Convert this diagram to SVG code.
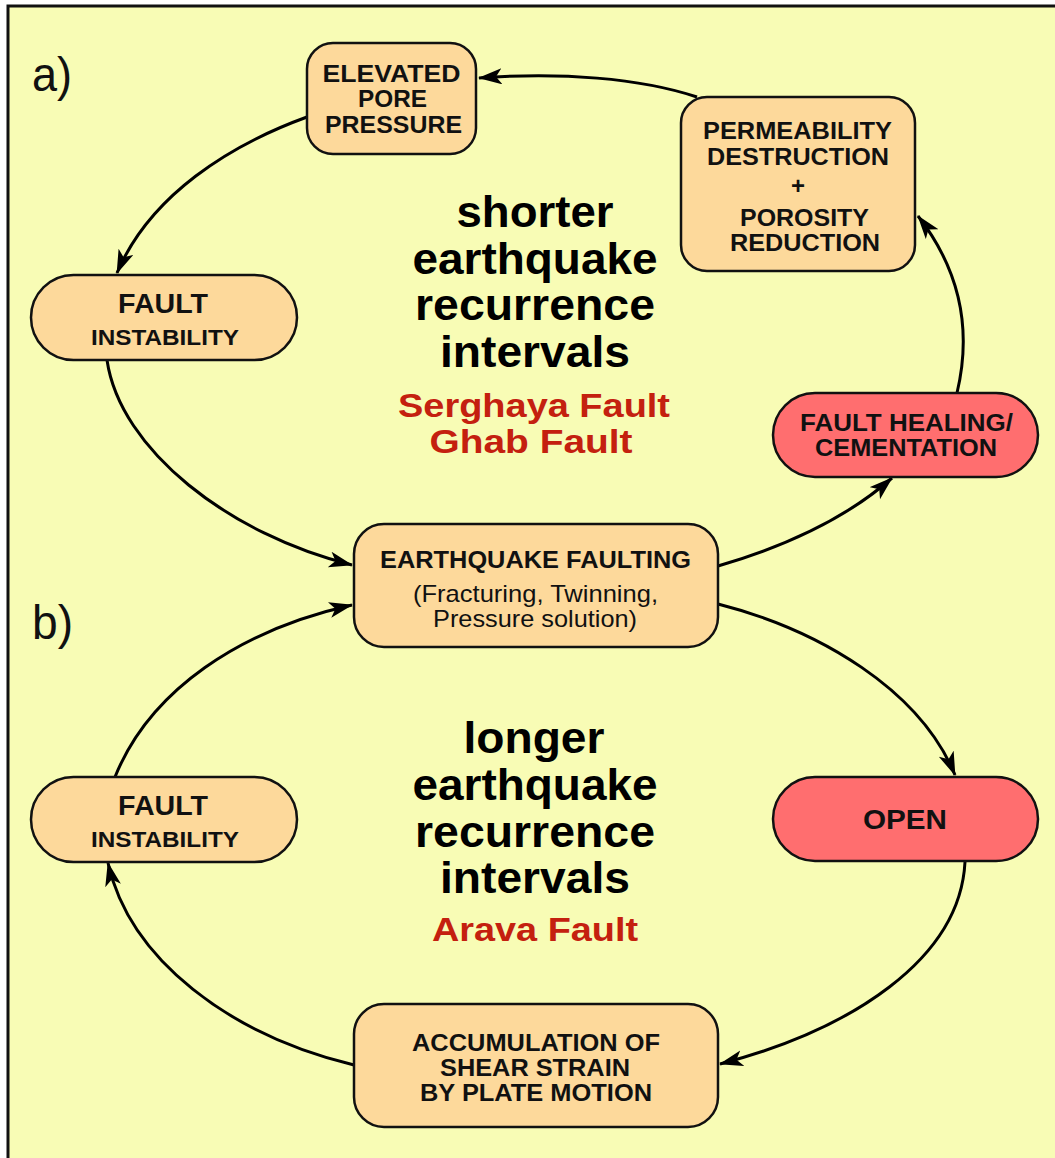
<svg xmlns="http://www.w3.org/2000/svg" width="1055" height="1158" viewBox="0 0 1055 1158">
<style>
.box{fill:#fdd99b;stroke:#111;stroke-width:2.5}
.red{fill:#ff6e6f;stroke:#111;stroke-width:2.5}
.t{font-family:"Liberation Sans",Arial,sans-serif;font-weight:bold;fill:#111;text-anchor:middle}
.r{font-family:"Liberation Sans",Arial,sans-serif;fill:#111;text-anchor:middle}
.big{font-family:"Liberation Sans",Arial,sans-serif;font-weight:bold;font-size:45px;fill:#000;text-anchor:middle}
.fault{font-family:"Liberation Sans",Arial,sans-serif;font-weight:bold;font-size:33px;fill:#c4200f;text-anchor:middle}
.lab{font-family:"Liberation Sans",Arial,sans-serif;font-size:48px;fill:#111}
.c{fill:none;stroke:#000;stroke-width:3;marker-end:url(#ah)}
</style>
<defs>
<marker id="ah" markerUnits="userSpaceOnUse" markerWidth="26" markerHeight="18" refX="23" refY="8" orient="auto">
<path d="M0,0 L24,8 L0,16 L6,8 z" fill="#000"/>
</marker>
</defs>
<rect x="8" y="6" width="1070" height="1170" fill="#f8fcb5" stroke="#111" stroke-width="3"/>
<g id="labels">
<text class="lab" x="32" y="91" textLength="40" lengthAdjust="spacingAndGlyphs">a)</text>
<text class="lab" x="32" y="639" textLength="41" lengthAdjust="spacingAndGlyphs">b)</text>
</g>
<g id="title-a">
<text class="big" x="535" y="227" textLength="157" lengthAdjust="spacingAndGlyphs">shorter</text>
<text class="big" x="535" y="274" textLength="245" lengthAdjust="spacingAndGlyphs">earthquake</text>
<text class="big" x="535" y="320" textLength="240" lengthAdjust="spacingAndGlyphs">recurrence</text>
<text class="big" x="535" y="367" textLength="190" lengthAdjust="spacingAndGlyphs">intervals</text>
<text class="fault" x="534" y="417" textLength="272" lengthAdjust="spacingAndGlyphs">Serghaya Fault</text>
<text class="fault" x="531" y="453" textLength="203" lengthAdjust="spacingAndGlyphs">Ghab Fault</text>
</g>
<g id="title-b">
<text class="big" x="534" y="753" textLength="141" lengthAdjust="spacingAndGlyphs">longer</text>
<text class="big" x="535" y="800" textLength="245" lengthAdjust="spacingAndGlyphs">earthquake</text>
<text class="big" x="535" y="847" textLength="240" lengthAdjust="spacingAndGlyphs">recurrence</text>
<text class="big" x="535" y="893" textLength="190" lengthAdjust="spacingAndGlyphs">intervals</text>
<text class="fault" x="535" y="941" textLength="206" lengthAdjust="spacingAndGlyphs">Arava Fault</text>
</g>
<g id="connectors">
<path class="c" d="M697,97 C640,78 560,72 479,78"/>
<path class="c" d="M307,117 C230,145 150,195 117,273"/>
<path class="c" d="M107,360 C120,450 230,535 352,565"/>
<path class="c" d="M718,566 C790,545 850,515 892,478"/>
<path class="c" d="M957,393 C972,330 960,270 918,216"/>
<path class="c" d="M718,604 C820,630 920,690 955,775"/>
<path class="c" d="M965,862 C960,960 850,1030 720,1064"/>
<path class="c" d="M354,1065 C230,1035 130,960 108,863"/>
<path class="c" d="M115,777 C150,690 240,630 352,605"/>
</g>
<g id="elevated">
<rect class="box" x="307" y="43" width="169" height="111" rx="26"/>
<text class="t" font-size="24" x="391.5" y="82" textLength="138" lengthAdjust="spacingAndGlyphs">ELEVATED</text>
<text class="t" font-size="24" x="392.5" y="107" textLength="69" lengthAdjust="spacingAndGlyphs">PORE</text>
<text class="t" font-size="24" x="393.5" y="133" textLength="137" lengthAdjust="spacingAndGlyphs">PRESSURE</text>
</g>
<g id="permeability">
<rect class="box" x="681" y="97" width="234" height="174" rx="26"/>
<text class="t" font-size="24" x="797.5" y="139" textLength="189" lengthAdjust="spacingAndGlyphs">PERMEABILITY</text>
<text class="t" font-size="24" x="798" y="165" textLength="182" lengthAdjust="spacingAndGlyphs">DESTRUCTION</text>
<text class="t" font-size="24" x="798" y="194">+</text>
<text class="t" font-size="24" x="804.5" y="226" textLength="129" lengthAdjust="spacingAndGlyphs">POROSITY</text>
<text class="t" font-size="24" x="805" y="251" textLength="150" lengthAdjust="spacingAndGlyphs">REDUCTION</text>
</g>
<g id="fault-instability-a">
<rect class="box" x="31" y="275" width="266" height="85" rx="42.5"/>
<text class="t" font-size="28" x="163" y="313" textLength="90" lengthAdjust="spacingAndGlyphs">FAULT</text>
<text class="t" font-size="22" x="165" y="345" textLength="148" lengthAdjust="spacingAndGlyphs">INSTABILITY</text>
</g>
<g id="fault-healing">
<rect class="red" x="773" y="393" width="265" height="84" rx="42"/>
<text class="t" font-size="24" x="906.5" y="431" textLength="213" lengthAdjust="spacingAndGlyphs">FAULT HEALING/</text>
<text class="t" font-size="24" x="906" y="456" textLength="182" lengthAdjust="spacingAndGlyphs">CEMENTATION</text>
</g>
<g id="earthquake-faulting">
<rect class="box" x="354" y="524" width="364" height="123" rx="30"/>
<text class="t" font-size="24" x="535.5" y="568" textLength="311" lengthAdjust="spacingAndGlyphs">EARTHQUAKE FAULTING</text>
<text class="r" font-size="24" x="535.5" y="602" textLength="245" lengthAdjust="spacingAndGlyphs">(Fracturing, Twinning,</text>
<text class="r" font-size="24" x="535" y="627" textLength="204" lengthAdjust="spacingAndGlyphs">Pressure solution)</text>
</g>
<g id="fault-instability-b">
<rect class="box" x="31" y="777" width="266" height="85" rx="42.5"/>
<text class="t" font-size="28" x="163" y="815" textLength="90" lengthAdjust="spacingAndGlyphs">FAULT</text>
<text class="t" font-size="22" x="165" y="847" textLength="148" lengthAdjust="spacingAndGlyphs">INSTABILITY</text>
</g>
<g id="open">
<rect class="red" x="773" y="777" width="265" height="84" rx="42"/>
<text class="t" font-size="27" x="905" y="829" textLength="84" lengthAdjust="spacingAndGlyphs">OPEN</text>
</g>
<g id="accumulation">
<rect class="box" x="354" y="1004" width="364" height="123" rx="30"/>
<text class="t" font-size="24" x="536" y="1051" textLength="248" lengthAdjust="spacingAndGlyphs">ACCUMULATION OF</text>
<text class="t" font-size="24" x="535" y="1076" textLength="190" lengthAdjust="spacingAndGlyphs">SHEAR STRAIN</text>
<text class="t" font-size="24" x="536" y="1101" textLength="232" lengthAdjust="spacingAndGlyphs">BY PLATE MOTION</text>
</g>
</svg>
